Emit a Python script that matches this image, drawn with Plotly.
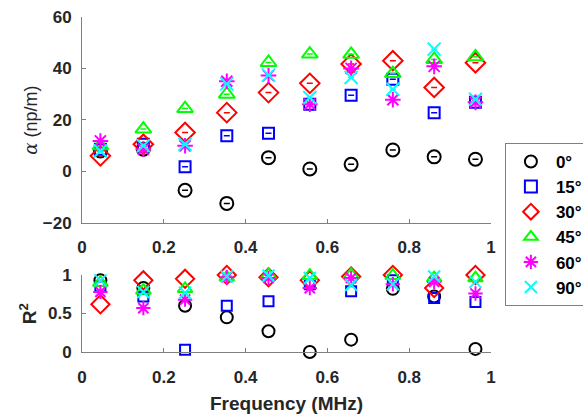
import plotly.graph_objects as go

freq = [0.045, 0.150, 0.252, 0.354, 0.456, 0.557, 0.658, 0.760, 0.861, 0.962]
labels = ["0°", "15°", "30°", "45°", "60°", "90°"]

alpha_0 = [7.9, 8.6, -7.4, -12.5, 5.3, 0.9, 2.7, 8.3, 5.6, 4.7]
alpha_15 = [8.6, 10.5, 1.8, 13.8, 14.8, 26.1, 29.6, 35.8, 22.8, 26.8]
alpha_30 = [6.0, 10.5, 15.1, 22.8, 30.6, 34.2, 41.7, 43.0, 32.6, 42.2]
alpha_45 = [9.9, 16.4, 24.4, 30.0, 42.3, 45.6, 45.5, 38.0, 43.5, 44.5]
alpha_60 = [11.8, 8.6, 9.9, 35.0, 37.2, 26.1, 40.0, 27.8, 40.8, 26.8]
alpha_90 = [7.9, 9.9, 10.5, 34.0, 37.4, 28.7, 36.5, 31.9, 47.5, 28.0]

r2_0 = [0.93, 0.83, 0.60, 0.45, 0.27, 0.00, 0.16, 0.82, 0.72, 0.04]
r2_15 = [0.85, 0.72, 0.03, 0.60, 0.66, 0.88, 0.79, 0.93, 0.70, 0.65]
r2_30 = [0.62, 0.93, 0.95, 1.00, 0.97, 0.93, 0.98, 1.00, 0.83, 1.00]
r2_45 = [0.90, 0.80, 0.82, 0.97, 1.00, 0.99, 1.00, 0.99, 0.96, 0.96]
r2_60 = [0.78, 0.57, 0.68, 0.97, 0.96, 0.83, 0.96, 0.88, 0.91, 0.76]
r2_90 = [0.93, 0.78, 0.77, 0.98, 0.99, 0.96, 0.87, 0.88, 0.98, 0.91]

alphas = [alpha_0, alpha_15, alpha_30, alpha_45, alpha_60, alpha_90]
r2s = [r2_0, r2_15, r2_30, r2_45, r2_60, r2_90]
colors = ["#000000", "#0000FF", "#FF0000", "#00FF00", "#FF00FF", "#00FFFF"]
symbols = ["circle-open", "square-open", "diamond-open", "triangle-up-open",
           "asterisk-open", "x-thin-open"]
sizes = [13, 11, 15, 14, 13, 13]

fig = go.Figure()
for i in range(6):
    fig.add_trace(go.Scatter(
        x=freq, y=alphas[i], mode="markers", name=labels[i],
        marker=dict(symbol=symbols[i], color=colors[i], size=sizes[i],
                    line=dict(width=2, color=colors[i])),
        error_y=dict(type="data", array=[0] * len(freq), visible=True,
                     color=colors[i], thickness=1.5, width=3),
        cliponaxis=False, xaxis="x", yaxis="y", legendgroup=labels[i]))
for i in range(6):
    fig.add_trace(go.Scatter(
        x=freq, y=r2s[i], mode="markers", name=labels[i], showlegend=False,
        marker=dict(symbol=symbols[i], color=colors[i], size=sizes[i] - 1,
                    line=dict(width=2, color=colors[i])),
        cliponaxis=False, xaxis="x2", yaxis="y2", legendgroup=labels[i]))

tickfont = dict(family="Liberation Sans", size=17, color="#262626", weight="bold")
axcommon = dict(showgrid=False, zeroline=False, showline=True, linecolor="#808080",
                linewidth=1, ticks="inside", ticklen=4, tickcolor="#808080",
                tickfont=tickfont)

fig.update_layout(
    width=583, height=415, margin=dict(l=82, r=92, t=17, b=63, autoexpand=False),
    plot_bgcolor="white", paper_bgcolor="white",
    xaxis=dict(domain=[0, 1], range=[0, 1], anchor="y",
               tickvals=[0, 0.2, 0.4, 0.6, 0.8, 1], ticktext=["0", "0.2", "0.4", "0.6", "0.8", "1"],
               ticklabelstandoff=9, **axcommon),
    yaxis=dict(domain=[0.386, 1], range=[-20, 60], anchor="x",
               tickvals=[-20, 0, 20, 40, 60], ticklabelstandoff=6, **axcommon),
    xaxis2=dict(domain=[0, 1], range=[0, 1], anchor="y2",
                tickvals=[0, 0.2, 0.4, 0.6, 0.8, 1], ticktext=["0", "0.2", "0.4", "0.6", "0.8", "1"],
                ticklabelstandoff=10, **axcommon),
    yaxis2=dict(domain=[0, 0.2299], range=[0, 1], anchor="x2",
                tickvals=[0, 0.5, 1], ticktext=["0", "0.5", "1"], ticklabelstandoff=6, **axcommon),
    legend=dict(x=1.034, y=0.624, xanchor="left", yanchor="top",
                bordercolor="#808080", borderwidth=1, bgcolor="white",
                font=dict(family="Liberation Sans", size=17, color="#000000", weight="bold"),
                tracegroupgap=0, itemwidth=40, itemsizing="constant"),
    showlegend=True,
)

fig.add_annotation(text='<span style="font-family:DejaVu Serif"><i>α</i></span> (np/m)',
                   xref="paper", yref="paper", x=-0.125, y=0.693, textangle=-90,
                   showarrow=False, xanchor="center", yanchor="middle",
                   font=dict(family="Liberation Sans", size=18, color="#262626"))
fig.add_annotation(text="<b>R<sup>2</sup></b>",
                   xref="paper", yref="paper", x=-0.13, y=0.115, textangle=-90,
                   showarrow=False, xanchor="center", yanchor="middle",
                   font=dict(family="Liberation Sans", size=19, color="#262626"))
fig.add_annotation(text="<b>Frequency (MHz)</b>",
                   xref="paper", yref="paper", x=0.5, y=-0.155,
                   showarrow=False, xanchor="center", yanchor="middle",
                   font=dict(family="Liberation Sans", size=19, color="#262626"))

fig.write_html("out.html", config={"displayModeBar": False},
               post_script="document.body.style.margin='0';")
